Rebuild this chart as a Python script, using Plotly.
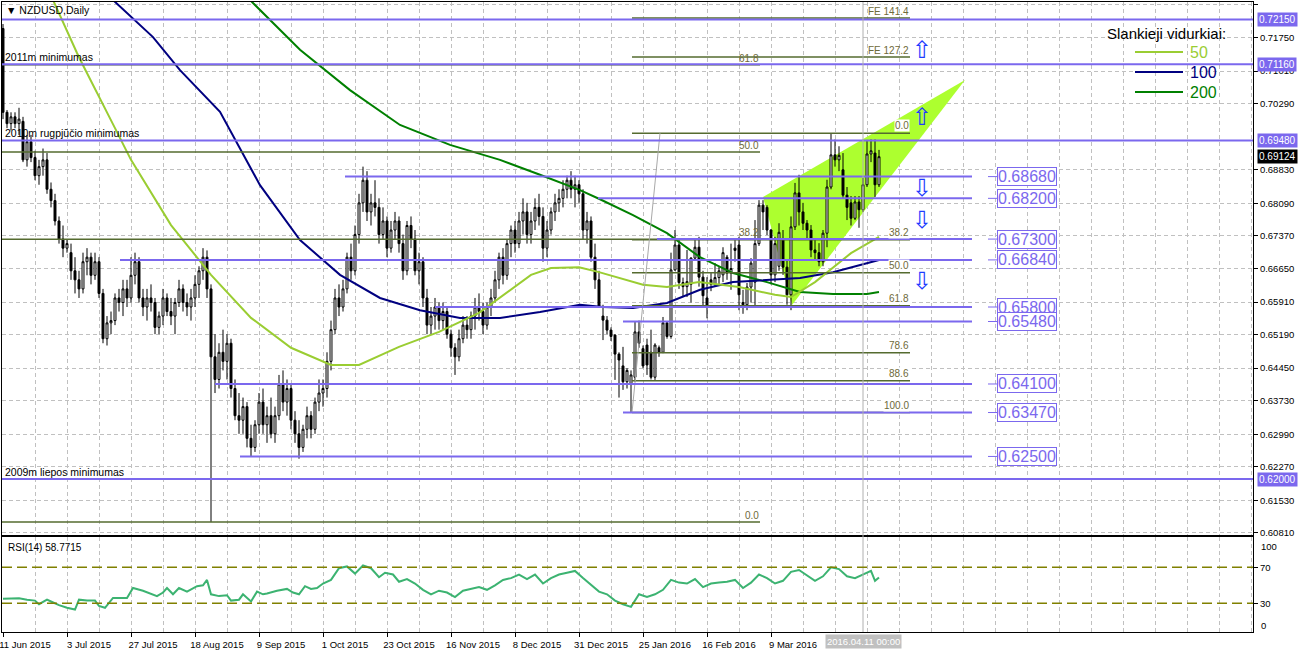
import plotly.graph_objects as go
import pandas as pd

# ---------------- DATA ----------------
start_date, end_date = "2015-06-11", "2016-04-15"
holidays = ["2015-12-25", "2016-01-01"]

# OHLC in pips (price * 10000)
opens = [7195,7010,6985,7000,6985,6990,6905,6945,6910,6870,6890,6905,6840,6815,6770,6730,6710,6700,6660,6640,
         6620,6680,6690,6650,6680,6610,6510,6545,6550,6600,6590,6620,6600,6650,6680,6600,6580,6600,6590,6535,
         6560,6600,6570,6560,6590,6620,6590,6580,6600,6630,6660,6690,6620,6470,6420,6480,6460,6500,6400,6340,
         6330,6360,6290,6270,6320,6370,6320,6340,6300,6340,6410,6370,6400,6330,6300,6270,6310,6340,6310,6370,
         6390,6400,6460,6530,6600,6580,6620,6690,6660,6740,6810,6860,6790,6810,6800,6740,6770,6710,6750,6770,
         6720,6660,6760,6730,6660,6680,6600,6540,6560,6580,6550,6570,6520,6490,6470,6510,6540,6530,6560,6580,
         6570,6540,6580,6600,6640,6690,6650,6720,6750,6720,6770,6790,6740,6770,6800,6780,6710,6750,6790,6810,
         6820,6840,6860,6840,6850,6830,6750,6770,6690,6640,6560,6551,6529,6518,6476,6450,6415,6410,6425,6525,
         6488,6496,6480,6425,6490,6480,6545,6515,6662,6717,6634,6625,6630,6688,6712,6646,6600,6640,6630,6645,
         6651,6690,6655,6710,6717,6590,6585,6624,6635,6720,6805,6800,6750,6651,6670,6728,6668,6607,6757,6832,
         6790,6765,6750,6706,6700,6680,6743,6845,6916,6905,6883,6827,6810,6776,6812,6795,6850,6918,6920,6850]
highs = [7205,7015,7010,7010,7020,7000,6960,6960,6925,6905,6930,6920,6855,6830,6780,6760,6730,6720,6690,6660,
         6700,6710,6700,6700,6690,6620,6560,6570,6610,6620,6640,6640,6690,6700,6690,6620,6620,6630,6600,6570,
         6620,6610,6600,6600,6640,6630,6610,6620,6650,6670,6710,6705,6630,6520,6500,6530,6520,6510,6420,6390,
         6380,6370,6320,6330,6390,6400,6360,6380,6360,6430,6440,6420,6410,6350,6330,6320,6360,6350,6380,6420,
         6420,6480,6550,6620,6630,6640,6700,6720,6760,6830,6890,6880,6830,6860,6820,6800,6780,6770,6790,6780,
         6740,6770,6780,6750,6700,6690,6620,6580,6600,6590,6590,6580,6530,6500,6530,6560,6560,6570,6600,6610,
         6590,6590,6620,6660,6700,6710,6730,6760,6770,6790,6820,6810,6790,6820,6830,6800,6770,6800,6830,6840,
         6860,6870,6880,6870,6860,6840,6790,6780,6720,6660,6585,6560,6535,6520,6480,6492,6445,6440,6547,6550,
         6495,6510,6530,6500,6495,6558,6547,6700,6750,6728,6645,6706,6690,6732,6735,6660,6646,6655,6677,6670,
         6712,6695,6720,6728,6735,6618,6633,6688,6772,6816,6816,6805,6752,6735,6765,6750,6684,6780,6854,6872,
         6810,6772,6761,6732,6721,6750,6861,6964,6950,6935,6920,6845,6825,6825,6825,6865,6949,6950,6950,6927]
lows = [6995,6975,6970,6975,6960,6900,6890,6900,6860,6850,6870,6830,6800,6760,6720,6690,6700,6640,6610,6600,
        6610,6650,6630,6640,6600,6500,6495,6520,6540,6570,6560,6580,6590,6630,6590,6560,6550,6570,6520,6520,
        6540,6560,6540,6520,6580,6570,6560,6550,6580,6600,6640,6600,6105,6390,6400,6440,6420,6380,6330,6300,
        6300,6270,6250,6260,6300,6300,6280,6290,6280,6330,6350,6340,6310,6280,6245,6260,6290,6290,6300,6350,
        6360,6380,6440,6520,6560,6570,6610,6640,6650,6720,6790,6770,6760,6780,6720,6730,6690,6700,6730,6700,
        6640,6650,6710,6650,6630,6580,6520,6520,6530,6530,6530,6510,6470,6430,6460,6500,6510,6510,6530,6550,
        6520,6530,6560,6590,6620,6630,6640,6690,6700,6710,6740,6720,6720,6750,6760,6680,6690,6740,6770,6790,
        6800,6820,6820,6800,6810,6730,6720,6680,6620,6580,6507,6520,6505,6419,6380,6397,6400,6348,6415,6490,
        6445,6430,6420,6419,6470,6478,6510,6510,6660,6620,6602,6602,6590,6684,6625,6580,6555,6615,6625,6630,
        6635,6640,6618,6680,6573,6565,6573,6590,6580,6715,6750,6739,6630,6635,6660,6651,6585,6573,6750,6760,
        6750,6728,6690,6684,6670,6670,6712,6840,6890,6880,6820,6772,6760,6772,6755,6790,6845,6900,6823,6845]
closes = [7010,6985,7000,6985,6995,6905,6945,6910,6870,6890,6905,6840,6815,6770,6730,6710,6720,6660,6640,6620,
          6680,6690,6650,6680,6610,6510,6545,6550,6600,6590,6620,6600,6650,6680,6600,6580,6600,6590,6535,6560,
          6600,6570,6560,6590,6620,6590,6580,6600,6630,6660,6690,6620,6470,6420,6480,6460,6500,6400,6340,6330,
          6360,6290,6270,6320,6370,6320,6340,6300,6340,6410,6370,6400,6330,6300,6270,6310,6340,6310,6370,6390,
          6400,6460,6530,6600,6580,6620,6690,6660,6740,6810,6860,6790,6810,6800,6740,6770,6710,6750,6770,6720,
          6660,6760,6730,6660,6680,6600,6540,6560,6580,6550,6570,6520,6490,6470,6510,6540,6530,6560,6580,6570,
          6540,6580,6600,6640,6690,6650,6720,6750,6720,6770,6790,6740,6770,6800,6780,6710,6750,6790,6810,6820,
          6840,6860,6840,6850,6830,6750,6770,6690,6640,6580,6551,6529,6515,6476,6463,6415,6440,6430,6525,6500,
          6450,6452,6425,6496,6480,6545,6515,6662,6717,6634,6625,6636,6688,6712,6646,6605,6580,6630,6645,6660,
          6700,6655,6665,6705,6607,6585,6624,6677,6720,6805,6790,6750,6651,6720,6745,6668,6607,6757,6832,6790,
          6765,6750,6706,6700,6680,6743,6845,6916,6905,6915,6827,6800,6776,6812,6795,6850,6918,6925,6850,6912]

# Moving averages (bar index, pips)
ma50_idx = [10, 12.5, 18.5, 20, 28, 32, 42, 52, 62, 72, 82, 89, 99, 109, 119, 127, 132, 137, 144, 149, 160, 166, 174, 184, 193, 197, 203, 212, 219]
ma50_val = [7300, 7258, 7141, 7114, 6975, 6905, 6761, 6651, 6556, 6490, 6452, 6452, 6492, 6525, 6567, 6618, 6651, 6666, 6668, 6657, 6629, 6624, 6635, 6624, 6607, 6602, 6635, 6699, 6735]
ma100_idx = [21.75, 27.5, 37.5, 44.25, 54.25, 64.25, 74.25, 84.25, 94.25, 104.25, 114.25, 124.25, 134.25, 144.25, 150, 157.5, 166, 174.25, 182.5, 191, 199.25, 207.5, 219]
ma100_val = [7313, 7258, 7176, 7103, 7011, 6849, 6728, 6651, 6600, 6573, 6556, 6556, 6569, 6585, 6580, 6578, 6589, 6618, 6635, 6640, 6644, 6657, 6684]
ma200_idx = [59.25, 61.75, 74.25, 86.75, 99.25, 111.75, 124.25, 134.25, 144.25, 149.25, 157.5, 166, 174.25, 182.5, 191, 199.25, 207.5, 216, 219]
ma200_val = [7280, 7258, 7148, 7059, 6982, 6938, 6905, 6872, 6838, 6818, 6783, 6743, 6690, 6655, 6635, 6613, 6609, 6609, 6613]

# RSI(14) keypoints (bar index, value)
rsi_idx = [0, 4, 6, 8, 9, 11, 12, 14, 16, 18, 19, 21, 23, 24, 25.5, 27.5, 29, 31, 32.5, 35, 38.5, 40, 41, 42.5, 44, 46, 48.5, 50, 51, 52,
           54, 56, 57, 59, 60, 62, 63.5, 65, 66, 68.5, 71, 72.5, 74, 75.5, 77, 78.5, 80, 82, 84, 86, 88, 90, 92, 94, 95.5, 97.5, 99,
           101, 103, 105, 107, 109, 111, 113, 115, 117, 119, 121, 123, 125, 127, 129, 131, 133, 135, 137, 139, 141, 143, 145, 147,
           149, 151, 153, 155, 157, 159, 161, 163, 165, 167, 169, 171, 173, 175, 177, 179, 181, 183, 185, 187, 189, 191, 193, 195,
           197, 199, 201, 203, 205, 207, 209, 211, 213, 215, 217, 218, 219]
rsi_val = [35, 35.5, 34, 33, 29, 34, 32, 28, 25, 23, 34, 33, 33, 27, 25, 36, 36, 36, 47, 44, 38, 42, 47, 40, 47, 43, 49, 50, 56, 40,
           38, 39, 33, 34, 40, 32, 43, 40, 41, 44, 46, 42, 40, 49, 46, 47, 52, 56, 69, 71, 63, 72, 69, 59, 64, 62, 54,
           57, 52, 45, 40, 44, 42, 37, 44, 46, 48, 45, 50, 56, 58, 62, 57, 62, 52, 58, 62, 64, 66, 58, 50,
           43, 40, 33, 29, 26, 40, 37, 40, 45, 56, 53, 52, 57, 48, 52, 53, 54, 56, 47, 53, 62, 58, 52, 55,
           65, 67, 61, 55, 60, 70, 68, 60, 58, 62, 66, 55, 58.77]

# Horizontal support / resistance levels
full_levels = [0.72150, 0.71160, 0.69480, 0.62000]
part_levels = [0.68680, 0.68200, 0.67300, 0.66840, 0.65800, 0.65480, 0.64100, 0.63470, 0.62500]
part_starts = [85.5, 148.75, 163.5, 29.25, 108, 155, 53, 155, 59.25]
part_end = 242.25

# Fibonacci objects
fib1_low, fib1_high = 0.61052, 0.77396
fib1_levels = [0.0, 38.2, 50.0, 61.8]
fib1_span = [-1, 189.25]
fib2_high, fib2_low = 0.6964, 0.6347
fib2_levels = [0.0, 38.2, 50.0, 61.8, 78.6, 88.6, 100.0]
fib2_span = [157.25, 226.75]
fib2_anchor_idx = [157.25, 164.25]
fe_levels = [127.2, 141.4]
fe_prices = [0.71322, 0.72183]

# Rising wedge triangle (bar index, price)
tri_idx = [190, 197.25, 240.5]
tri_price = [0.68230, 0.65845, 0.70814]

# Arrow markers (price, direction)
arrow_prices = [0.71476, 0.70003, 0.68428, 0.67722, 0.66375]
arrow_dirs = ["up", "up", "down", "down", "down"]

y_ticks = [0.72470, 0.71750, 0.71010, 0.70290, 0.68830, 0.68090, 0.67370, 0.66650, 0.65910,
           0.65190, 0.64450, 0.63730, 0.62990, 0.62270, 0.61530, 0.60810]
x_tick_idx = [0, 16, 32, 48, 64, 80, 96, 112, 128, 144, 160, 176, 192]
x_tick_labels = ["11 Jun 2015", "3 Jul 2015", "27 Jul 2015", "18 Aug 2015", "9 Sep 2015", "1 Oct 2015",
                 "23 Oct 2015", "16 Nov 2015", "8 Dec 2015", "31 Dec 2015", "25 Jan 2016", "16 Feb 2016", "9 Mar 2016"]
vline_idx = 215
vline_label = "2016.04.11 00:00"
last_price = 0.69124

# ---------------- BUILD ----------------
dates = [d for d in pd.bdate_range(start_date, end_date) if d.strftime("%Y-%m-%d") not in holidays]
n = len(closes)
idx = list(range(n))
P = lambda a: [v / 10000 for v in a]

VIOLET = "#7B68EE"
OLIVE = "#556B2F"
FIBTXT = "#6E6A3A"
FONT = "Liberation Sans, Arial, sans-serif"

W, H = 1300, 652
ML, MR, MT, MB = 2, 47, 2, 20
def px_x(px):
    return (px - ML) / (W - ML - MR)
def px_y(py):
    return (H - MB - py) / (H - MT - MB)

fig = go.Figure()

fig.add_trace(go.Candlestick(x=idx, open=P(opens), high=P(highs), low=P(lows), close=P(closes),
                             increasing=dict(line=dict(color="black", width=1), fillcolor="white"),
                             decreasing=dict(line=dict(color="black", width=1), fillcolor="black"),
                             whiskerwidth=0, showlegend=False, xaxis="x", yaxis="y", hoverinfo="skip"))

for xs, ys, col in [(ma200_idx, ma200_val, "#008000"), (ma100_idx, ma100_val, "#000080"), (ma50_idx, ma50_val, "#9ACD32")]:
    fig.add_trace(go.Scatter(x=xs, y=P(ys), mode="lines", line=dict(color=col, width=2),
                             showlegend=False, hoverinfo="skip", xaxis="x", yaxis="y"))

fig.add_trace(go.Scatter(x=rsi_idx, y=rsi_val, mode="lines", line=dict(color="#3CB371", width=2),
                         showlegend=False, hoverinfo="skip", xaxis="x2", yaxis="y2"))

shapes = []
ann = []

# triangle between grid and traces
tri_path = "M {},{} L {},{} L {},{} Z".format(tri_idx[0], tri_price[0], tri_idx[1], tri_price[1], tri_idx[2], tri_price[2])
shapes.append(dict(type="path", xref="x", yref="y", path=tri_path, fillcolor="#ADFF2F",
                   line=dict(width=0), layer="between"))

def A(**kw):
    kw.setdefault("showarrow", False)
    kw.setdefault("xanchor", "center")
    kw.setdefault("yanchor", "middle")
    ann.append(kw)

# fib 1
for lv in fib1_levels:
    p = fib1_low + (fib1_high - fib1_low) * lv / 100
    shapes.append(dict(type="line", xref="x", yref="y", x0=fib1_span[0], x1=fib1_span[1], y0=p, y1=p,
                       line=dict(color=OLIVE, width=1.5)))
    A(x=fib1_span[1], y=p, xref="x", yref="y", text=f"{lv:.1f}", xanchor="right", yanchor="bottom",
      font=dict(family=FONT, size=10, color=FIBTXT), borderpad=0)
# fib 2
for lv in fib2_levels:
    p = fib2_high - (fib2_high - fib2_low) * lv / 100
    shapes.append(dict(type="line", xref="x", yref="y", x0=fib2_span[0], x1=fib2_span[1], y0=p, y1=p,
                       line=dict(color=OLIVE, width=1.5)))
    A(x=fib2_span[1], y=p, xref="x", yref="y", text=f"{lv:.1f}", xanchor="right", yanchor="bottom",
      yshift=1, bgcolor="white", font=dict(family=FONT, size=10, color=FIBTXT), borderpad=0)
shapes.append(dict(type="line", xref="x", yref="y", x0=fib2_anchor_idx[0], x1=fib2_anchor_idx[1],
                   y0=fib2_low, y1=fib2_high, line=dict(color="#A8A8A8", width=1)))
# fib expansion
for lv, p in zip(fe_levels, fe_prices):
    shapes.append(dict(type="line", xref="x", yref="y", x0=fib2_span[0], x1=fib2_span[1], y0=p, y1=p,
                       line=dict(color=OLIVE, width=1.5)))
    A(x=fib2_span[1], y=p, xref="x", yref="y", text=f"FE {lv:.1f}", xanchor="right", yanchor="bottom",
      font=dict(family=FONT, size=10, color=FIBTXT), borderpad=0)

# violet levels
for lv in full_levels:
    shapes.append(dict(type="line", xref="paper", yref="y", x0=0, x1=1, y0=lv, y1=lv,
                       line=dict(color=VIOLET, width=2)))
    A(x=1, y=lv, xref="paper", yref="y", text=f"{lv:.5f}", xanchor="left",
      xshift=4, bgcolor=VIOLET, font=dict(family=FONT, size=10, color="white"), borderpad=1)
for lv, st in zip(part_levels, part_starts):
    shapes.append(dict(type="line", xref="x", yref="y", x0=st, x1=part_end, y0=lv, y1=lv,
                       line=dict(color=VIOLET, width=2)))
    shapes.append(dict(type="line", xref="paper", yref="y", x0=px_x(988), x1=px_x(998), y0=lv, y1=lv,
                       line=dict(color=VIOLET, width=1)))
    A(x=px_x(997), y=lv, xref="paper", yref="y", text=f"{lv:.5f}", xanchor="left", bgcolor="white",
      bordercolor=VIOLET, borderwidth=1, borderpad=0, font=dict(family=FONT, size=16, color=VIOLET))

A(x=1, y=last_price, xref="paper", yref="y", text=f"{last_price:.5f}", xanchor="left", xshift=4,
  bgcolor="black", font=dict(family=FONT, size=10, color="white"), borderpad=1)

# vertical line
shapes.append(dict(type="line", xref="x", yref="paper", x0=vline_idx, x1=vline_idx, y0=0, y1=1,
                   line=dict(color="#B0B0B0", width=1)))
A(x=vline_idx, y=px_y(641), xref="x", yref="paper", text=vline_label,
  bgcolor="#C0C0C0", font=dict(family=FONT, size=9.5, color="white"), borderpad=1)

# RSI levels
for lv in [70, 30]:
    shapes.append(dict(type="line", xref="paper", yref="y2", x0=0, x1=1, y0=lv, y1=lv,
                       line=dict(color="#808000", width=1.5, dash="10px,5px")))
A(x=1, y=px_y(546), xref="paper", yref="paper", text="100", xanchor="left", xshift=6,
  font=dict(family=FONT, size=9.5, color="black"))
A(x=1, y=px_y(625), xref="paper", yref="paper", text="0", xanchor="left", xshift=6,
  font=dict(family=FONT, size=9.5, color="black"))

# arrows
for p, d in zip(arrow_prices, arrow_dirs):
    A(x=px_x(922), y=p, xref="paper", yref="y", text="⇧" if d == "up" else "⇩",
      font=dict(family="DejaVu Sans", size=24, color="#1E3CFF"))

# texts
A(x=px_x(4), y=px_y(10), xref="paper", yref="paper", text="▼ NZDUSD,Daily", xanchor="left",
  font=dict(family=FONT, size=10.5, color="black"))
for txt, lv in [("2011m minimumas", 0.71160), ("2010m rugpjūčio minimumas", 0.69480), ("2009m liepos minimumas", 0.62000)]:
    A(x=px_x(4), y=lv, xref="paper", yref="y", text=txt, xanchor="left", yanchor="bottom",
      font=dict(family=FONT, size=10.5, color="black"), borderpad=0)
A(x=px_x(6), y=px_y(547), xref="paper", yref="paper", text="RSI(14) 58.7715", xanchor="left",
  font=dict(family=FONT, size=10, color="black"))

# MA legend
A(x=px_x(1166), y=px_y(33), xref="paper", yref="paper", text="Slankieji vidurkiai:",
  font=dict(family=FONT, size=15, color="black"))
for lab, col, py in [("50", "#9ACD32", 52), ("100", "#000080", 72), ("200", "#008000", 92)]:
    shapes.append(dict(type="line", xref="paper", yref="paper", x0=px_x(1135), x1=px_x(1183), y0=px_y(py), y1=px_y(py),
                       line=dict(color=col, width=2)))
    A(x=px_x(1188), y=px_y(py), xref="paper", yref="paper", text=lab, xanchor="left",
      font=dict(family=FONT, size=16, color=col))

grid = dict(showgrid=True, gridcolor="#C0C0C0", griddash="4px,3px", gridwidth=1)
axline = dict(showline=True, mirror=True, linecolor="black", linewidth=1)
minor = dict(tick0=0, dtick=8, showgrid=True, gridcolor="#C0C0C0", griddash="4px,3px")

fig.update_layout(
    width=W, height=H, margin=dict(l=ML, r=MR, t=MT, b=MB, autoexpand=False),
    paper_bgcolor="white", plot_bgcolor="white", showlegend=False,
    font=dict(family=FONT, size=9.5, color="black"),
    shapes=shapes, annotations=ann,
    xaxis=dict(domain=[0, 1], anchor="y", range=[-0.25, 312.5], tickvals=x_tick_idx, showticklabels=False,
               ticks="", rangeslider=dict(visible=False), zeroline=False, minor=minor, **grid, **axline),
    xaxis2=dict(domain=[0, 1], anchor="y2", matches="x", range=[-0.25, 312.5], tickvals=x_tick_idx,
                ticktext=x_tick_labels, ticks="outside", ticklen=4, tickcolor="black", ticklabelshift=22,
                ticklabeloverflow="allow",
                tickfont=dict(family=FONT, size=9.5), zeroline=False, minor=minor, **grid, **axline),
    yaxis=dict(domain=[(H - MB - 535) / (H - MT - MB), 1], anchor="x", range=[0.60765, 0.72536], side="right",
               tickvals=y_ticks, ticktext=[f"{v:.5f}" for v in y_ticks], ticks="outside", ticklen=4,
               tickcolor="black", tickfont=dict(family=FONT, size=9.5), zeroline=False, **grid, **axline),
    yaxis2=dict(domain=[0, (H - MB - 537) / (H - MT - MB)], anchor="x2", range=[-1.9, 103.7], side="right",
                tickvals=[30, 70], ticks="outside", ticklen=4, tickcolor="black",
                tickfont=dict(family=FONT, size=9.5), showgrid=False, zeroline=False, **axline),
)

fig.write_html("out.html", config={"displayModeBar": False},
               post_script="document.body.style.margin='0';document.body.style.overflow='hidden';")
